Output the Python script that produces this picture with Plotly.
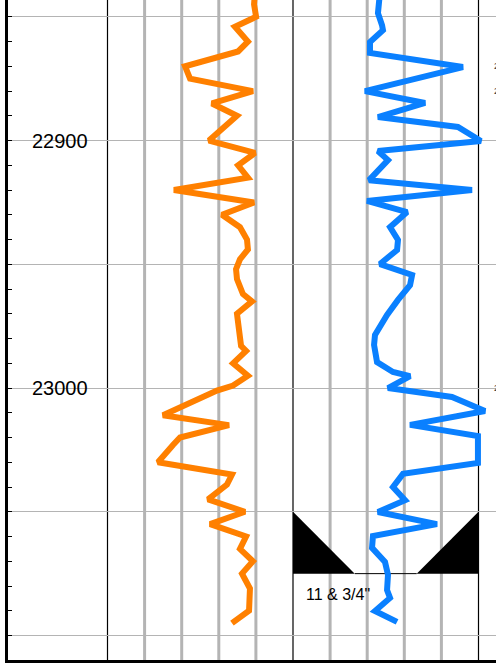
import plotly.graph_objects as go

# ---------------- data ----------------
depth_labels = [22900, 23000]

gr_depth = [22840, 22845, 22850, 22854, 22860, 22864, 22870, 22875, 22880, 22885,
            22890, 22900, 22905, 22910, 22915, 22920, 22925, 22930, 22935, 22940,
            22944, 22948, 22952, 22956, 22962, 22965, 22970, 22977, 22983, 22985,
            22990, 22995, 22999, 23001, 23011, 23015, 23020, 23023, 23030, 23035,
            23039, 23045, 23050, 23055, 23060, 23065, 23070, 23075, 23081, 23090,
            23095]
gr_value = [79.5, 79.0, 80.1, 68.7, 75.7, 70.4, 41.8, 44.5, 78.4, 56.3,
            69.8, 54.7, 79.5, 70.4, 75.7, 35.8, 79.0, 61.7, 71.4, 75.2,
            75.7, 71.4, 69.3, 69.8, 73.0, 77.9, 69.8, 71.4, 72.0, 74.7,
            67.7, 75.7, 67.7, 59.0, 29.9, 65.5, 39.1, 35.3, 27.2, 67.1,
            64.4, 54.2, 74.1, 55.3, 74.7, 71.4, 78.4, 72.5, 76.8, 76.3,
            67.1]

t2_depth = [22840, 22848.5, 22853.4, 22855.4, 22860.2, 22864.6, 22870.3, 22880, 22884.8, 22890.5,
            22894.5, 22900.2, 22904.2, 22907.9, 22916, 22920, 22924.4, 22928.9, 22935, 22940.2,
            22944.2, 22949.9, 22954.3, 22958.4, 22964.4, 22970.5, 22978.6, 22982.6, 22989.5, 22993.5,
            22995.2, 23000, 23003.6, 23009.3, 23014.9, 23019.4, 23030.3, 23034.7, 23040, 23045.3,
            23050.1, 23055, 23059.8, 23064.6, 23070.3, 23075.5, 23081.6, 23084.8, 23090.1, 23094.5]
t2_value = [46.9, 45.8, 48.0, 48.5, 41.5, 41.5, 91.6, 38.8, 71.2, 45.8,
            88.9, 101.3, 45.8, 51.2, 41.0, 96.5, 39.9, 61.5, 52.3, 56.6,
            56.1, 46.9, 64.2, 63.1, 56.6, 50.7, 44.2, 43.7, 45.3, 53.9,
            63.1, 51.2, 85.7, 103.5, 63.1, 99.7, 99.7, 59.3, 53.9, 60.4,
            45.8, 77.6, 43.1, 42.6, 49.6, 51.2, 50.7, 52.3, 44.2, 56.1]

shoe_top = 23050
shoe_bottom = 23075
shoe_label = '11 & 3/4"'
edge_label_depths = [22870, 22880, 23000]

# ---------------- layout constants ----------------
W, H = 496, 671
ML, MB = 8, 11
PX = 1.855           # px per track unit
T1_ZERO = 107.5      # px of track-1 zero
T2_ZERO = 293.0      # px of track-2 zero
DEPTH_TOP = 22843.2
DEPTH_BOTTOM = 23109.9
GRID = "#b4b4b4"

x1_range = [(ML - T1_ZERO) / PX, (W - T1_ZERO) / PX]
x2_range = [(ML - T2_ZERO) / PX, (W - T2_ZERO) / PX]

fig = go.Figure()
fig.add_trace(go.Scatter(x=gr_value, y=gr_depth, mode="lines", xaxis="x", yaxis="y",
                         line=dict(color="#ff8000", width=6), hoverinfo="skip", showlegend=False))
fig.add_trace(go.Scatter(x=t2_value, y=t2_depth, mode="lines", xaxis="x2", yaxis="y",
                         line=dict(color="#0a80ff", width=6), hoverinfo="skip", showlegend=False))

shapes = []
for xr in ("x", "x2"):
    for v in (20, 40, 60, 80):
        shapes.append(dict(type="line", xref=xr, yref="paper", x0=v, x1=v, y0=0, y1=1,
                           line=dict(color=GRID, width=3), layer="below"))
for xr, v in (("x", 0), ("x", 100), ("x2", 100)):
    shapes.append(dict(type="line", xref=xr, yref="paper", x0=v, x1=v, y0=0, y1=1,
                       line=dict(color="black", width=1.2), layer="below"))
# casing shoe
shapes.append(dict(type="path", xref="x2", yref="y",
                   path=f"M 0,{shoe_top} L 0,{shoe_bottom} L 33.3,{shoe_bottom} Z",
                   fillcolor="black", line=dict(color="black", width=0), layer="below"))
shapes.append(dict(type="path", xref="x2", yref="y",
                   path=f"M 100,{shoe_top} L 100,{shoe_bottom} L 66.7,{shoe_bottom} Z",
                   fillcolor="black", line=dict(color="black", width=0), layer="below"))
shapes.append(dict(type="line", xref="x2", yref="y", x0=33.3, x1=66.7, y0=shoe_bottom, y1=shoe_bottom,
                   line=dict(color="black", width=1), layer="below"))

annotations = []
for d in depth_labels:
    annotations.append(dict(x=(60 - ML) / (W - ML), xref="paper", y=d, yref="y", text=str(d),
                            showarrow=False, xanchor="center", yanchor="middle",
                            font=dict(family="Liberation Sans, Arial", size=20, color="black")))
annotations.append(dict(x=(304 - T2_ZERO) / PX, xref="x2", y=23083.6, yref="y", text=shoe_label,
                        showarrow=False, xanchor="left", yanchor="middle",
                        font=dict(family="Liberation Sans, Arial", size=16, color="black")))
for d in edge_label_depths:
    annotations.append(dict(x=(492 - ML) / (W - ML), xref="paper", y=d, yref="y", text="2",
                            showarrow=False, xanchor="left", yanchor="middle",
                            font=dict(family="Liberation Sans, Arial", size=9, color="#333")))

fig.update_layout(
    width=W, height=H,
    margin=dict(l=ML, r=0, t=0, b=MB, pad=0),
    paper_bgcolor="white", plot_bgcolor="white",
    showlegend=False,
    xaxis=dict(range=x1_range, showgrid=False, zeroline=False, showticklabels=False,
               ticks="", showline=True, linewidth=3, linecolor="black", fixedrange=True),
    xaxis2=dict(range=x2_range, overlaying="x", visible=False, fixedrange=True),
    yaxis=dict(range=[DEPTH_BOTTOM, DEPTH_TOP], showgrid=True, gridcolor=GRID, gridwidth=1,
               tick0=22850, dtick=50, zeroline=False, showticklabels=False,
               ticks="inside", ticklen=4, tickwidth=1, tickcolor="black",
               minor=dict(dtick=10, tick0=22850, ticks="inside", ticklen=4, tickcolor="black",
                          showgrid=False),
               showline=True, linewidth=3, linecolor="black", fixedrange=True),
    yaxis2=dict(range=[DEPTH_BOTTOM, DEPTH_TOP], overlaying="y", anchor="free",
                position=(107 - ML) / (W - ML), side="left", showgrid=False, zeroline=False,
                showticklabels=False, tick0=22850, dtick=10, ticks="outside", ticklen=2,
                tickcolor="black", showline=False, fixedrange=True),
    shapes=shapes,
    annotations=annotations,
)

fig.write_html("out.html", config={"displayModeBar": False, "staticPlot": True},
               post_script="document.body.style.margin='0';document.body.style.overflow='hidden';")
